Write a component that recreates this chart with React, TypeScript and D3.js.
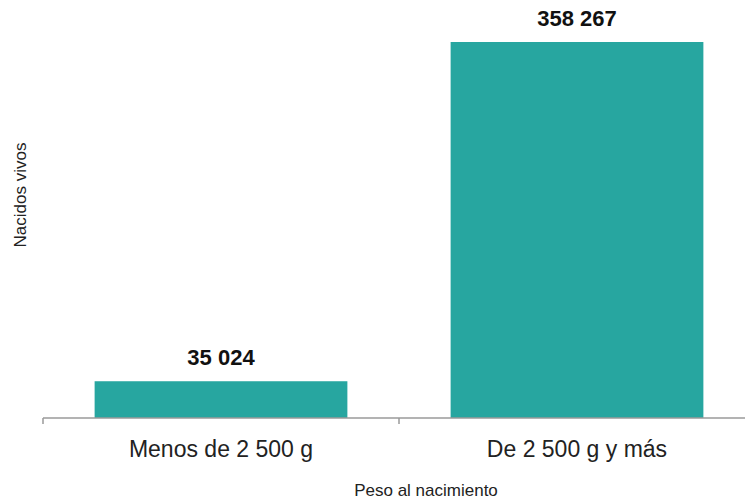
import React from "react";
import * as d3 from "d3";

const categories = ["Menos de 2 500 g", "De 2 500 g y más"];
const values = [35024, 358267];
const valueLabels = ["35 024", "358 267"];
const xTitle = "Peso al nacimiento";
const yTitle = "Nacidos vivos";

const W = 745;
const H = 499;
const FONT = "'Liberation Sans', Arial, Helvetica, sans-serif";

export default function App() {
  const baseY = 418;
  const x = d3
    .scaleBand<string>()
    .domain(categories)
    .range([43, 755])
    .paddingInner(0.29)
    .paddingOuter(0.145);
  const y = d3
    .scaleLinear()
    .domain([0, d3.max(values) as number])
    .range([baseY, 42]);

  const step = x.step();
  const tickXs = categories.map((c) => (x(c) as number) - (x.paddingOuter() * step));

  return (
    <svg
      width={W}
      height={H}
      style={{ position: "absolute", left: 0, top: 0, background: "#fff" }}
      fontFamily={FONT}
    >
      <rect x={0} y={0} width={W} height={H} fill="#fff" />
      {categories.map((c, i) => (
        <rect
          key={c}
          x={x(c)}
          y={y(values[i])}
          width={x.bandwidth()}
          height={baseY - y(values[i])}
          fill="#27a6a0"
        />
      ))}
      {categories.map((c, i) => (
        <text
          key={"l" + c}
          x={(x(c) as number) + x.bandwidth() / 2}
          y={y(values[i]) - 16}
          textAnchor="middle"
          fontSize={22}
          fontWeight="bold"
          fill="#111"
        >
          {valueLabels[i]}
        </text>
      ))}
      <line x1={43} x2={W} y1={baseY} y2={baseY} stroke="#9a9a9a" strokeWidth={1.5} />
      {tickXs.map((t, i) => (
        <line key={"t" + i} x1={t} x2={t} y1={baseY} y2={baseY + 6} stroke="#9a9a9a" strokeWidth={1.5} />
      ))}
      {categories.map((c) => (
        <text
          key={"c" + c}
          x={(x(c) as number) + x.bandwidth() / 2}
          y={457}
          textAnchor="middle"
          fontSize={23}
          fill="#222"
        >
          {c}
        </text>
      ))}
      <text x={426} y={496} textAnchor="middle" fontSize={17} fill="#222">
        {xTitle}
      </text>
      <text
        transform={`translate(26,195) rotate(-90)`}
        textAnchor="middle"
        fontSize={17}
        fill="#222"
      >
        {yTitle}
      </text>
    </svg>
  );
}
